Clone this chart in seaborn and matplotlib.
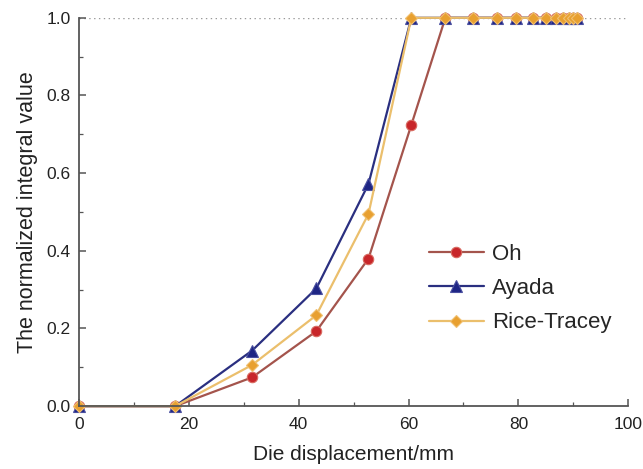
import matplotlib

matplotlib.use('Agg')

import pandas as pd  # noqa: E402
import seaborn as sns  # noqa: E402
from matplotlib import pyplot as plt  # noqa: E402
from matplotlib.ticker import MultipleLocator  # noqa: E402

# die displacement (mm) at each step
displacement = [0, 17.5, 31.5, 43.2, 52.7, 60.5, 66.7, 71.7, 76.1, 79.6,
                82.6, 85.0, 86.8, 88.2, 89.2, 90.0, 90.6]

oh = [0.0, 0.0, 0.074, 0.193, 0.380, 0.724, 1.0, 1.0, 1.0, 1.0,
      1.0, 1.0, 1.0, 1.0, 1.0, 1.0, 1.0]
ayada = [0.0, 0.0, 0.143, 0.303, 0.572, 1.0, 1.0, 1.0, 1.0, 1.0,
         1.0, 1.0, 1.0, 1.0, 1.0, 1.0, 1.0]
rice_tracey = [0.0, 0.0, 0.106, 0.234, 0.495, 1.0, 1.0, 1.0, 1.0, 1.0,
               1.0, 1.0, 1.0, 1.0, 1.0, 1.0, 1.0]

series = {'Oh': oh, 'Ayada': ayada, 'Rice-Tracey': rice_tracey}

STYLES = {
    'Oh': dict(color='#a4544c', marker='o', mfc='#c8262a', mec='#d86a60', ms=7.5),
    'Ayada': dict(color='#2a2f80', marker='^', mfc='#1e2585', mec='#4a4fa0', ms=8.5),
    'Rice-Tracey': dict(color='#ebbf6c', marker='D', mfc='#e8a030', mec='#f0c070', ms=6.5),
}

sns.set_style('ticks')
plt.rcParams['font.family'] = ['Liberation Sans', 'DejaVu Sans']

fig = plt.figure(figsize=(6.43, 4.69), dpi=100)
ax = fig.add_axes([0.123, 0.134, 0.854, 0.828])

ax.axhline(1.0, ls=(0, (1, 2.5)), lw=1.0, color='#999999', zorder=0)

for name, values in series.items():
    st = STYLES[name]
    df = pd.DataFrame({'x': displacement, 'y': values})
    sns.lineplot(df, x='x', y='y', ax=ax, color=st['color'], lw=1.6,
                 marker=st['marker'], markerfacecolor=st['mfc'],
                 markeredgecolor=st['mec'], markersize=st['ms'],
                 markeredgewidth=0.8, label=name, clip_on=False)

ax.set_xlim(0, 100)
ax.set_ylim(0, 1.0)
ax.xaxis.set_major_locator(MultipleLocator(20))
ax.xaxis.set_minor_locator(MultipleLocator(10))
ax.yaxis.set_major_locator(MultipleLocator(0.2))
ax.yaxis.set_minor_locator(MultipleLocator(0.1))
ax.yaxis.set_major_formatter(plt.FormatStrFormatter('%.1f'))
ax.tick_params(which='both', direction='in', colors='#555555', labelcolor='#222222',
               labelsize=12.5)
ax.tick_params(which='major', length=5, width=1.1, pad=6)
ax.tick_params(axis='x', which='major', pad=8)
ax.tick_params(which='minor', length=3, width=0.9)

for side in ('top', 'right'):
    ax.spines[side].set_visible(False)
for side in ('left', 'bottom'):
    ax.spines[side].set_color('#555555')
    ax.spines[side].set_linewidth(1.3)

ax.set_xlabel('Die displacement/mm', fontsize=15, color='#222222', labelpad=9)
ax.set_ylabel('The normalized integral value', fontsize=15.5, color='#222222', labelpad=6)

ax.legend(loc='upper left', bbox_to_anchor=(0.6, 0.47), frameon=False,
          fontsize=16, handlelength=2.5, labelspacing=0.6, handletextpad=0.35)

fig.savefig('out.png', dpi=100)
